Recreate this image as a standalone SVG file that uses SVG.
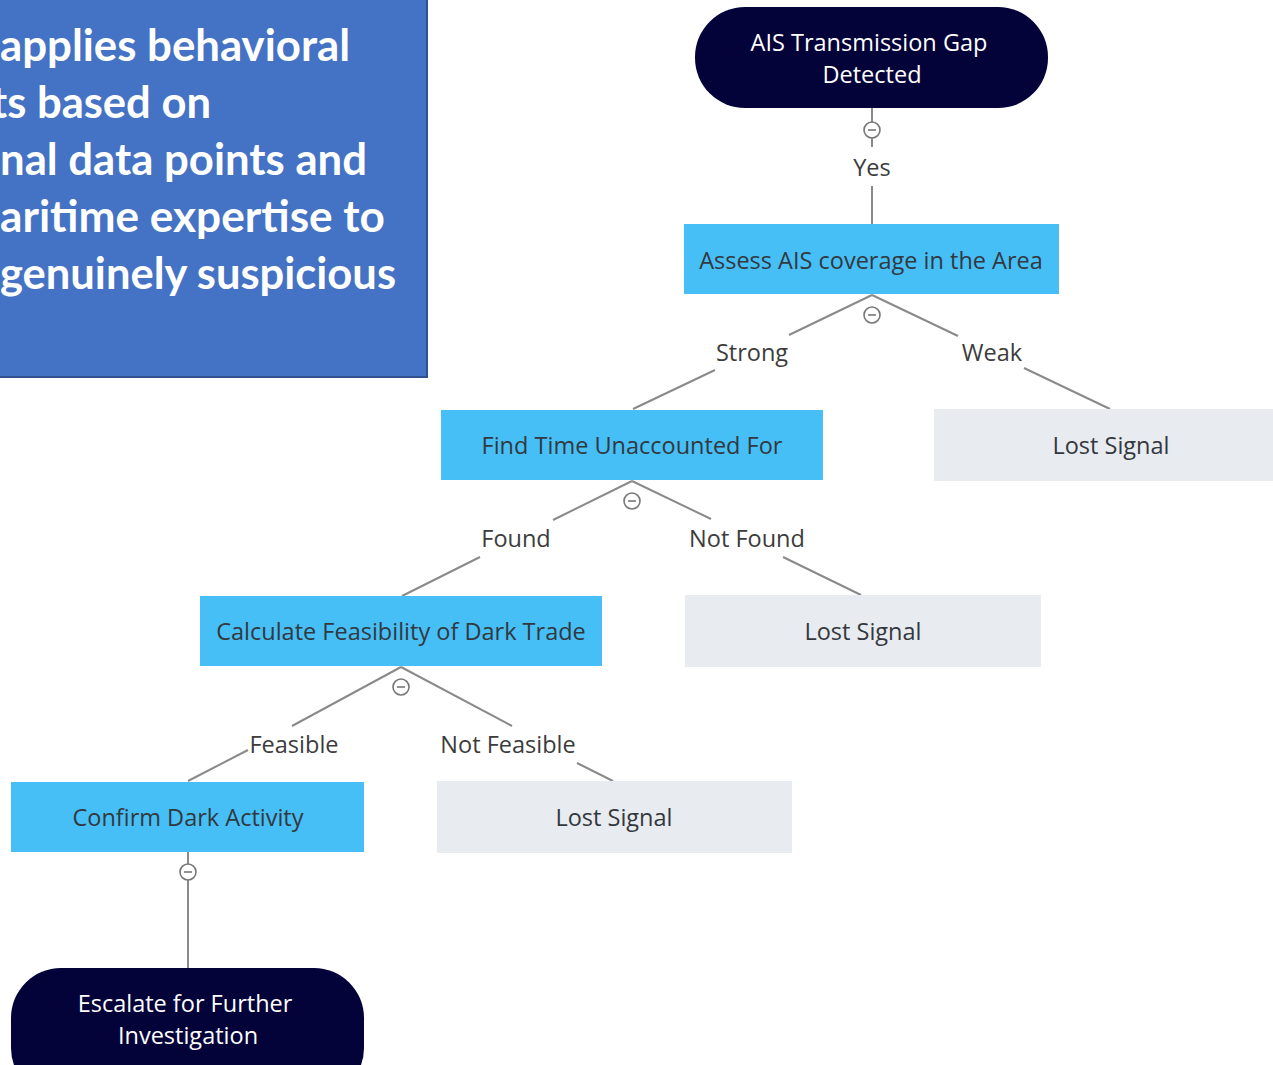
<svg xmlns="http://www.w3.org/2000/svg" width="1273" height="1065" viewBox="0 0 1273 1065">
<style>
.panel{fill:#4472C4;stroke:#2F528F;stroke-width:2}
.ptxt{font-family:Lato,"Open Sans",sans-serif;font-weight:700;font-size:43px;fill:#ffffff}
.term{fill:#03033a}
.proc{fill:#46BFF6}
.leaf{fill:#E8EBF0}
.tw{font-family:"Open Sans","Noto Sans",sans-serif;font-size:23.5px;fill:#ffffff;text-anchor:middle}
.td{font-family:"Open Sans","Noto Sans",sans-serif;font-size:23.5px;fill:#33383e;text-anchor:middle}
.lbl{font-family:"Open Sans","Noto Sans",sans-serif;font-size:23.5px;fill:#3c3c3c;text-anchor:middle}
.ln{stroke:#8a8a8a;stroke-width:2;fill:none}
.tog{fill:#fff;stroke:#777;stroke-width:1.6}
.tgm{stroke:#777;stroke-width:1.6}
</style>
<defs>
<g id="toggle"><circle class="tog" r="8"/><line class="tgm" x1="-4" y1="0" x2="4" y2="0"/></g>
</defs>
<rect width="1273" height="1065" fill="#ffffff"/>
<g id="panel">
<rect class="panel" x="-5" y="-5" width="432" height="382"/>
<text class="ptxt" x="0" y="61" textLength="350" lengthAdjust="spacingAndGlyphs">applies behavioral</text>
<text class="ptxt" x="-9" y="118" textLength="220" lengthAdjust="spacingAndGlyphs">ts based on</text>
<text class="ptxt" x="0" y="175" textLength="367" lengthAdjust="spacingAndGlyphs">nal data points and</text>
<text class="ptxt" x="0" y="232" textLength="385" lengthAdjust="spacingAndGlyphs">aritime expertise to</text>
<text class="ptxt" x="0" y="289" textLength="396" lengthAdjust="spacingAndGlyphs">genuinely suspicious</text>
</g>
<g id="connectors">
<line class="ln" x1="872" y1="108" x2="872" y2="122"/>
<line class="ln" x1="872" y1="138" x2="872" y2="147"/>
<line class="ln" x1="872" y1="186" x2="872" y2="224"/>
<line class="ln" x1="872" y1="295" x2="789" y2="335"/>
<line class="ln" x1="715" y1="370" x2="633" y2="409"/>
<line class="ln" x1="872" y1="295" x2="958" y2="336"/>
<line class="ln" x1="1024" y1="368" x2="1110" y2="409"/>
<line class="ln" x1="632" y1="481" x2="553" y2="520"/>
<line class="ln" x1="480" y1="557" x2="402" y2="596"/>
<line class="ln" x1="632" y1="481" x2="711" y2="519"/>
<line class="ln" x1="783" y1="557" x2="861" y2="595"/>
<line class="ln" x1="401" y1="667" x2="292" y2="726"/>
<line class="ln" x1="248" y1="750" x2="188" y2="781"/>
<line class="ln" x1="401" y1="667" x2="512" y2="726"/>
<line class="ln" x1="577" y1="763" x2="613" y2="781"/>
<line class="ln" x1="188" y1="852" x2="188" y2="864"/>
<line class="ln" x1="188" y1="880" x2="188" y2="968"/>
<use href="#toggle" x="872" y="130"/>
<use href="#toggle" x="872" y="315"/>
<use href="#toggle" x="632" y="501"/>
<use href="#toggle" x="401" y="687"/>
<use href="#toggle" x="188" y="872"/>
<text class="lbl" x="872" y="176">Yes</text>
<text class="lbl" x="752" y="361">Strong</text>
<text class="lbl" x="992" y="361">Weak</text>
<text class="lbl" x="516" y="547">Found</text>
<text class="lbl" x="747" y="547">Not Found</text>
<text class="lbl" x="294" y="753">Feasible</text>
<text class="lbl" x="508" y="753">Not Feasible</text>
</g>
<g id="n-start">
<rect class="term" x="695" y="7" width="353" height="101" rx="50"/>
<text class="tw" x="869" y="51">AIS Transmission Gap</text>
<text class="tw" x="872" y="83">Detected</text>
</g>
<g id="n-assess">
<rect class="proc" x="684" y="224" width="375" height="70"/>
<text class="td" x="871" y="269">Assess AIS coverage in the Area</text>
</g>
<g id="n-lost1">
<rect class="leaf" x="934" y="409" width="339" height="72"/>
<text class="td" x="1111" y="454">Lost Signal</text>
</g>
<g id="n-find">
<rect class="proc" x="441" y="410" width="382" height="70"/>
<text class="td" x="632" y="454">Find Time Unaccounted For</text>
</g>
<g id="n-lost2">
<rect class="leaf" x="685" y="595" width="356" height="72"/>
<text class="td" x="863" y="640">Lost Signal</text>
</g>
<g id="n-calc">
<rect class="proc" x="200" y="596" width="402" height="70"/>
<text class="td" x="401" y="640">Calculate Feasibility of Dark Trade</text>
</g>
<g id="n-lost3">
<rect class="leaf" x="437" y="781" width="355" height="72"/>
<text class="td" x="614" y="826">Lost Signal</text>
</g>
<g id="n-confirm">
<rect class="proc" x="11" y="782" width="353" height="70"/>
<text class="td" x="188" y="826">Confirm Dark Activity</text>
</g>
<g id="n-escalate">
<rect class="term" x="11" y="968" width="353" height="130" rx="50"/>
<text class="tw" x="185" y="1012">Escalate for Further</text>
<text class="tw" x="188" y="1044">Investigation</text>
</g>
</svg>
